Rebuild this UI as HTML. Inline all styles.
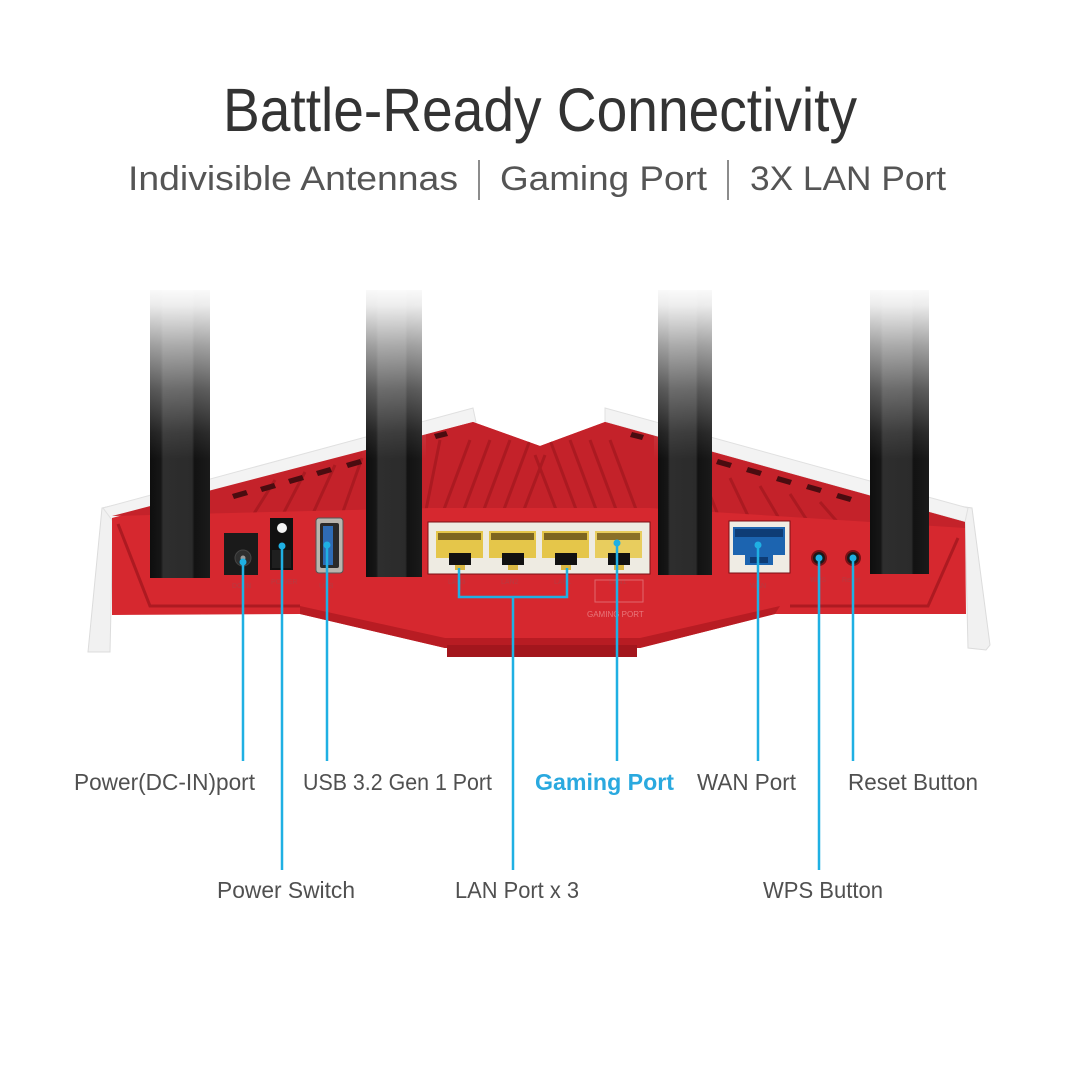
<!DOCTYPE html>
<html><head><meta charset="utf-8"><style>
html,body{margin:0;padding:0;background:#fff;}
svg{display:block;}
text{font-family:"Liberation Sans",sans-serif;}
</style></head><body>
<svg width="1080" height="1080" viewBox="0 0 1080 1080" xmlns="http://www.w3.org/2000/svg">
<defs>
<linearGradient id="ant" x1="0" y1="0" x2="1" y2="0">
<stop offset="0" stop-color="#0e0e0e"/><stop offset="0.18" stop-color="#161616"/>
<stop offset="0.22" stop-color="#2e2e2e"/><stop offset="0.7" stop-color="#2b2b2b"/>
<stop offset="0.74" stop-color="#121212"/><stop offset="1" stop-color="#1a1a1a"/>
</linearGradient>
<linearGradient id="fade" x1="0" y1="0" x2="0" y2="1">
<stop offset="0" stop-color="#fff" stop-opacity="1"/>
<stop offset="0.12" stop-color="#fff" stop-opacity="0.92"/>
<stop offset="0.35" stop-color="#fff" stop-opacity="0.6"/>
<stop offset="0.6" stop-color="#fff" stop-opacity="0.3"/>
<stop offset="0.85" stop-color="#fff" stop-opacity="0.08"/>
<stop offset="1" stop-color="#fff" stop-opacity="0"/>
</linearGradient>
<clipPath id="topclip"><polygon points="112,516 473,422 540,446 605,422 965,522 965,528 650,508 430,508"/></clipPath>
</defs>

<!-- Title -->
<text x="223" y="131" font-size="61" textLength="634" lengthAdjust="spacingAndGlyphs" fill="#333">Battle-Ready Connectivity</text>
<text x="128" y="190" font-size="34" textLength="330" lengthAdjust="spacingAndGlyphs" fill="#555">Indivisible Antennas</text>
<line x1="479" y1="160" x2="479" y2="200" stroke="#666" stroke-width="1.5"/>
<text x="500" y="190" font-size="34" textLength="207" lengthAdjust="spacingAndGlyphs" fill="#555">Gaming Port</text>
<line x1="728" y1="160" x2="728" y2="200" stroke="#666" stroke-width="1.5"/>
<text x="750" y="190" font-size="34" textLength="196" lengthAdjust="spacingAndGlyphs" fill="#555">3X LAN Port</text>

<!-- Router body -->
<polygon points="102,508 124,503 113,520 110,652 88,652" fill="#f1f1f1" stroke="#dcdcdc" stroke-width="1"/>
<polygon points="958,506 972,508 990,645 986,650 968,648 965,520" fill="#f1f1f1" stroke="#dcdcdc" stroke-width="1"/>
<polygon points="103,508 473,408 476,422 112,520" fill="#f3f3f3" stroke="#e0e0e0" stroke-width="1"/>
<polygon points="605,408 968,508 965,522 605,422" fill="#f3f3f3" stroke="#e0e0e0" stroke-width="1"/>
<polygon points="112,518 473,422 540,446 605,422 965,522 966,614 775,614 640,648 445,648 300,614 112,615" fill="#d6282f"/>
<polygon points="112,516 473,422 540,446 605,422 965,522 965,528 650,508 430,508" fill="#c4222a"/>
<g clip-path="url(#topclip)" stroke="#ab1a21" stroke-width="3" fill="none">
<path d="M440,520 L470,440 M460,520 L490,440 M480,520 L510,440 M500,520 L530,440 M520,520 L545,455"/>
<path d="M640,520 L610,440 M620,520 L590,440 M600,520 L570,440 M580,520 L550,440 M560,520 L535,455"/>
<path d="M250,520 L275,480 M280,520 L305,472 M310,520 L335,465 M340,520 L362,458 M425,515 L440,440"/>
<path d="M720,520 L700,470 M750,520 L730,478 M780,520 L760,486 M810,525 L790,494 M840,525 L820,502"/>
</g>
<g fill="#4a0c10">
<polygon points="232,494 246,490 248,495 234,499"/>
<polygon points="260,487 274,483 276,488 262,492"/>
<polygon points="288,479 302,475 304,480 290,484"/>
<polygon points="316,471 330,467 332,472 318,476"/>
<polygon points="346,463 360,459 362,464 348,468"/>
<polygon points="434,434 446,431 448,436 436,439"/>
<polygon points="632,432 644,435 642,440 630,437"/>
<polygon points="718,459 732,463 730,468 716,464"/>
<polygon points="748,467 762,471 760,476 746,472"/>
<polygon points="778,476 792,480 790,485 776,481"/>
<polygon points="808,484 822,488 820,493 806,489"/>
<polygon points="838,493 852,497 850,502 836,498"/>
</g>
<path d="M118,524 L150,606 L300,606" fill="none" stroke="#ad1a21" stroke-width="3"/>
<path d="M958,538 L928,606 L790,606" fill="none" stroke="#ad1a21" stroke-width="3"/>
<polygon points="300,606 445,638 640,638 780,606 775,614 640,648 445,648 300,614" fill="#b81c23"/>
<rect x="447" y="645" width="190" height="12" fill="#a3161d"/>

<!-- Antennas -->
<g>
<rect x="150" y="290" width="60" height="288" fill="url(#ant)"/>
<rect x="366" y="290" width="56" height="287" fill="url(#ant)"/>
<rect x="658" y="290" width="54" height="285" fill="url(#ant)"/>
<rect x="870" y="290" width="59" height="284" fill="url(#ant)"/>
<rect x="146" y="284" width="68" height="175" fill="url(#fade)"/>
<rect x="362" y="284" width="64" height="175" fill="url(#fade)"/>
<rect x="654" y="284" width="62" height="175" fill="url(#fade)"/>
<rect x="866" y="284" width="67" height="175" fill="url(#fade)"/>
</g>

<!-- Ports -->
<rect x="224" y="533" width="34" height="42" fill="#1a1a1a"/>
<circle cx="243" cy="558" r="8" fill="#2e2e2e" stroke="#444" stroke-width="1"/>
<circle cx="243" cy="558" r="2.5" fill="#999"/>
<rect x="270" y="518" width="23" height="52" fill="#111"/>
<circle cx="282" cy="528" r="5" fill="#f4f4f4"/>
<rect x="272" y="550" width="19" height="18" fill="#1f1f1f"/>
<rect x="316" y="518" width="27" height="55" rx="3" fill="#b8b4ad" stroke="#555" stroke-width="1"/>
<rect x="320" y="523" width="19" height="45" rx="2" fill="#2a2a2a"/>
<rect x="323" y="526" width="10" height="39" fill="#2f6cb5"/>
<rect x="428" y="522" width="222" height="52" fill="#eeebe2" stroke="#7a1116" stroke-width="1"/>
<g>
<rect x="436" y="531" width="47" height="27" fill="#e5c64a"/>
<rect x="438" y="533" width="43" height="7" fill="#7e6620"/>
<rect x="449" y="553" width="22" height="12" fill="#111"/>
<rect x="455" y="565" width="10" height="5" fill="#d9b844"/>
<rect x="489" y="531" width="47" height="27" fill="#e5c64a"/>
<rect x="491" y="533" width="43" height="7" fill="#7e6620"/>
<rect x="502" y="553" width="22" height="12" fill="#111"/>
<rect x="508" y="565" width="10" height="5" fill="#d9b844"/>
<rect x="542" y="531" width="47" height="27" fill="#e5c64a"/>
<rect x="544" y="533" width="43" height="7" fill="#7e6620"/>
<rect x="555" y="553" width="22" height="12" fill="#111"/>
<rect x="561" y="565" width="10" height="5" fill="#d9b844"/>
<rect x="595" y="531" width="47" height="27" fill="#e8cd5e"/>
<rect x="597" y="533" width="43" height="7" fill="#8a7028"/>
<rect x="608" y="553" width="22" height="12" fill="#111"/>
<rect x="614" y="565" width="10" height="5" fill="#d9b844"/>
</g>
<rect x="729" y="521" width="61" height="52" fill="#efece4" stroke="#7a1116" stroke-width="1"/>
<rect x="733" y="527" width="52" height="28" fill="#1c64b0"/>
<rect x="735" y="529" width="48" height="8" fill="#0e3c75"/>
<rect x="745" y="555" width="28" height="10" fill="#1c64b0"/>
<rect x="750" y="557" width="18" height="6" fill="#0e3c75"/>
<circle cx="819" cy="558" r="7" fill="#1a1a1a" stroke="#7a1015" stroke-width="2"/>
<circle cx="853" cy="558" r="7" fill="#1a1a1a" stroke="#7a1015" stroke-width="2"/>
<g font-size="7" fill="#b83a40">
<text x="232" y="588">DC-IN</text><text x="271" y="584">POWER</text><text x="319" y="588">USB</text>
<text x="448" y="584">LAN3</text><text x="501" y="584">LAN2</text><text x="554" y="584">LAN1</text><text x="609" y="584">LAN1</text>
<text x="750" y="588">WAN</text><text x="810" y="582">WPS</text><text x="842" y="582">Reset</text>
</g>
<rect x="595" y="580" width="48" height="22" fill="none" stroke="#e0676c" stroke-width="1"/>
<text x="587" y="617" font-size="8" fill="#e8777b">GAMING PORT</text>

<!-- Connector lines -->
<g stroke="#1fb0e3" stroke-width="2.5" fill="none">
<line x1="243" y1="562" x2="243" y2="761"/>
<line x1="282" y1="546" x2="282" y2="870"/>
<line x1="327" y1="545" x2="327" y2="761"/>
<path d="M459,568 V597 H567 V568"/>
<line x1="513" y1="597" x2="513" y2="870"/>
<line x1="617" y1="543" x2="617" y2="761"/>
<line x1="758" y1="545" x2="758" y2="761"/>
<line x1="819" y1="558" x2="819" y2="870"/>
<line x1="853" y1="558" x2="853" y2="761"/>
</g>
<g fill="#1fb0e3">
<circle cx="243" cy="562" r="3.5"/><circle cx="282" cy="546" r="3.5"/><circle cx="327" cy="545" r="3.5"/>
<circle cx="617" cy="543" r="3.5"/><circle cx="758" cy="545" r="3.5"/><circle cx="819" cy="558" r="3.5"/><circle cx="853" cy="558" r="3.5"/>
</g>

<!-- Labels -->
<g font-size="23" fill="#505050">
<text x="74" y="790" textLength="181" lengthAdjust="spacingAndGlyphs">Power(DC-IN)port</text>
<text x="303" y="790" textLength="189" lengthAdjust="spacingAndGlyphs">USB 3.2 Gen 1 Port</text>
<text x="697" y="790" textLength="99" lengthAdjust="spacingAndGlyphs">WAN Port</text>
<text x="848" y="790" textLength="130" lengthAdjust="spacingAndGlyphs">Reset Button</text>
<text x="217" y="898" textLength="138" lengthAdjust="spacingAndGlyphs">Power Switch</text>
<text x="455" y="898" textLength="124" lengthAdjust="spacingAndGlyphs">LAN Port x 3</text>
<text x="763" y="898" textLength="120" lengthAdjust="spacingAndGlyphs">WPS Button</text>
</g>
<text x="535" y="790" font-size="23" font-weight="bold" fill="#2aa9df" textLength="139" lengthAdjust="spacingAndGlyphs">Gaming Port</text>
</svg>
</body></html>
